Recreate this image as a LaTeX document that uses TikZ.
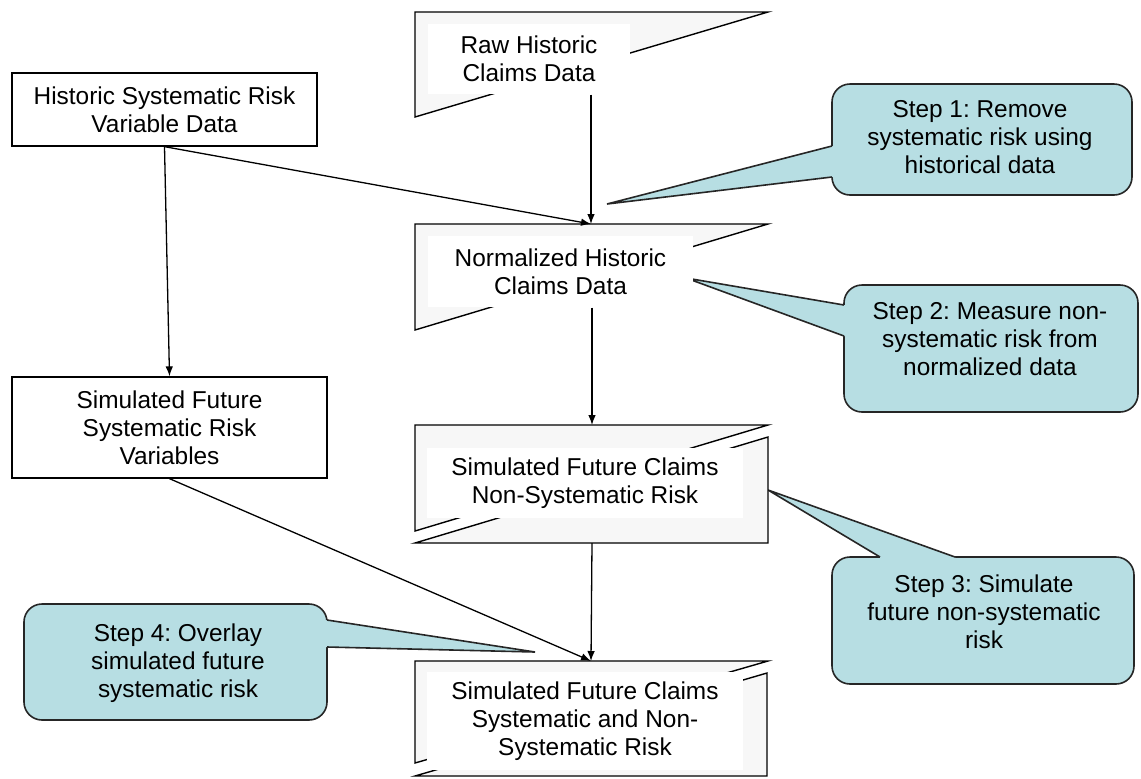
\documentclass[tikz,border=0pt]{standalone}
\usepackage{fontspec}
\setmainfont{Liberation Sans}
\usetikzlibrary{arrows.meta,calc}
\definecolor{cyanfill}{HTML}{B7DEE3}
\definecolor{docgray}{HTML}{F7F7F7}
\frenchspacing
\begin{document}
\begin{tikzpicture}[x=0.5pt,y=-0.5pt, line width=0.65pt,
  txt/.style={font=\fontsize{12.2}{13.9}\selectfont, align=center, inner sep=0pt},
  plainbox/.style={txt, draw=black, fill=white, line width=0.65pt},
  whitebox/.style={txt, fill=white},
  docshape/.style={fill=docgray, draw=black, line width=0.7pt, line join=miter},
  arr/.style={draw=black, line width=0.65pt, -{Latex[length=5pt,width=3.8pt]}},
  callout/.style={fill=cyanfill, draw=black!85, line width=0.8pt, rounded corners=9pt},
  tailline/.style={draw=black!85, line width=0.8pt},
]
\useasboundingbox (0,0) rectangle (1141,778);

% ---------- callouts (behind everything else) ----------
% Step 1
\node[callout, minimum width=150pt, minimum height=55.5pt] (c1) at (982,139.5) {};
\coordinate (c1tip) at (607,204);
\coordinate (c1a) at (832,146);
\coordinate (c1b) at (832,177);
\fill[cyanfill] (c1tip) -- (c1a) -- ($(c1a)+(5,0)$) -- ($(c1b)+(5,0)$) -- (c1b) -- cycle;
\draw[tailline] (c1a) -- (c1tip) -- (c1b);
\node[txt] (c1t) at (980,137) {Step 1: Remove\\systematic risk using\\historical data};

% Step 2
\node[callout, minimum width=147pt, minimum height=63.5pt] (c2) at (991,348.5) {};
\coordinate (c2tip) at (686,278);
\coordinate (c2a) at (844,305);
\coordinate (c2b) at (844,336);
\fill[cyanfill] (c2tip) -- (c2a) -- ($(c2a)+(5,0)$) -- ($(c2b)+(5,0)$) -- (c2b) -- cycle;
\draw[tailline] (c2a) -- (c2tip) -- (c2b);
\node[txt] (c2t) at (990,339) {Step 2: Measure non-\\systematic risk from\\normalized data};

% Step 3
\node[callout, minimum width=151pt, minimum height=63.5pt] (c3) at (983,620.5) {};
\coordinate (c3tip) at (768,490);
\coordinate (c3a) at (880,557);
\coordinate (c3b) at (955,557);
\fill[cyanfill] (c3tip) -- (c3a) -- ($(c3a)+(0,5)$) -- ($(c3b)+(0,5)$) -- (c3b) -- cycle;
\draw[tailline] (c3a) -- (c3tip) -- (c3b);
\node[txt] (c3t) at (984,612) {Step 3: Simulate\\future non-systematic\\risk};

% Step 4
\node[callout, minimum width=151.5pt, minimum height=58pt] (c4) at (175.5,662) {};
\coordinate (c4tip) at (535,652);
\coordinate (c4a) at (327,620);
\coordinate (c4b) at (327,647);
\fill[cyanfill] (c4tip) -- (c4a) -- ($(c4a)+(-5,0)$) -- ($(c4b)+(-5,0)$) -- (c4b) -- cycle;
\draw[tailline] (c4a) -- (c4tip) -- (c4b);
\node[txt] (c4t) at (178,663) {Step 4: Overlay\\simulated future\\systematic risk};

% ---------- plain boxes ----------
\node[plainbox, minimum width=152.5pt, minimum height=36.5pt] (hist) at (164.5,109.5)
  {Historic Systematic Risk\\Variable Data};
\node[plainbox, minimum width=157.5pt, minimum height=50.5pt] (simsys) at (169.5,427.5)
  {Simulated Future\\Systematic Risk\\Variables};

% ---------- document shapes ----------
% Raw historic claims data
\path[docshape] (415,12) -- (768,12) -- (415,117) -- cycle;
\node[whitebox, minimum width=101pt, minimum height=35pt] (raw) at (529,59)
  {Raw Historic\\Claims Data};

% Normalized historic claims data
\path[docshape] (415,224) -- (768,224) -- (415,330) -- cycle;
\node[whitebox, minimum width=132.5pt, minimum height=35.5pt] (norm) at (560.5,271.5)
  {Normalized Historic\\Claims Data};

% Simulated future claims non-systematic risk
\path[docshape] (415,425) -- (768,425) -- (415,531) -- cycle;
\path[docshape] (768,437) -- (768,543) -- (415,543) -- cycle;
\node[whitebox, minimum width=158pt, minimum height=35pt] (nonsys) at (585,483)
  {Simulated Future Claims\\Non-Systematic Risk};

% Simulated future claims systematic and non-systematic risk
\path[docshape] (415,661) -- (768,661) -- (415,763) -- cycle;
\path[docshape] (767,673) -- (767,776) -- (415,776) -- cycle;
\node[whitebox, minimum width=158pt, minimum height=49pt] (final) at (585,721)
  {Simulated Future Claims\\Systematic and Non-\\Systematic Risk};

% ---------- connectors ----------
\coordinate (normIn) at (591,224);
\coordinate (nonIn) at (592,425);
\coordinate (nonOut) at (592,543);
\coordinate (finIn) at (591,661);
\draw[arr] (raw.south -| normIn) -- (normIn);
\draw[arr] (hist.south) -- (normIn);
\draw[arr] (hist.south) -- (simsys.north);
\draw[arr] (norm.south -| nonIn) -- (nonIn);
\draw[arr] (nonOut) -- (finIn);
\draw[arr] (simsys.south) -- (finIn);
\end{tikzpicture}
\end{document}
